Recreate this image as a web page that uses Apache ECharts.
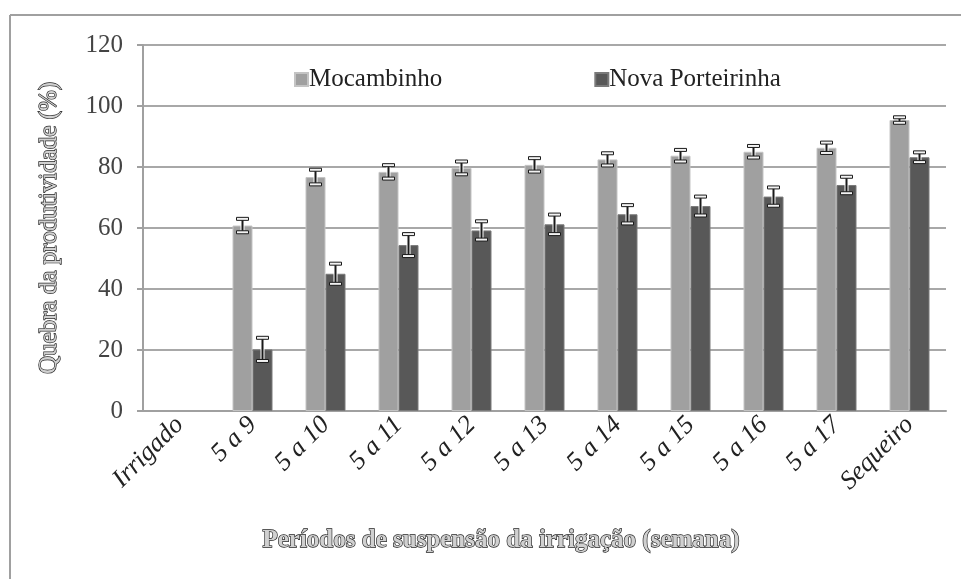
<!DOCTYPE html>
<html>
<head>
<meta charset="utf-8">
<script src="https://cdn.jsdelivr.net/npm/echarts@6/dist/echarts.min.js"></script>
<style>
html,body{margin:0;padding:0;background:#fff;}
#chart{width:961px;height:579px;}
</style>
</head>
<body>
<div id="chart"></div>
<script>
const categories = ['Irrigado','5 a 9','5 a 10','5 a 11','5 a 12','5 a 13','5 a 14','5 a 15','5 a 16','5 a 17','Sequeiro'];
const seriesNames = ['Mocambinho','Nova Porteirinha'];
const mocambinho = [0, 60.8, 76.7, 78.4, 79.7, 80.7, 82.5, 83.7, 85.0, 86.3, 95.4];
const novaPorteirinha = [0, 20.2, 45.0, 54.4, 59.2, 61.2, 64.5, 67.2, 70.3, 74.1, 83.2];
const mocambinhoErr = [null, 2.2, 2.4, 2.2, 2.1, 2.2, 2.0, 1.9, 1.9, 1.7, 0.9];
const novaPorteirinhaErr = [null, 3.8, 3.3, 3.6, 3.0, 3.2, 3.0, 3.1, 3.0, 2.7, 1.6];
const yTicks = {min: 0, max: 120, interval: 20};
const yAxisTitle = 'Quebra da produtividade (%)';
const xAxisTitle = 'Períodos de suspensão da irrigação (semana)';

const FONT = "'Liberation Serif', 'Times New Roman', serif";
const BAR_W = 20;

function barData(vals){
  // zero-height bars are drawn without an outline
  return vals.map(v => v === 0 ? {value: v, itemStyle: {borderWidth: 0}} : v);
}
function errData(vals, errs){
  return vals.map((v,i)=>[i, v, errs[i]]);
}
function makeErrRender(offset){
  return function(params, api){
    const e = api.value(2);
    if (e === null || e === undefined || isNaN(e)) return;
    const i = api.value(0), v = api.value(1);
    const top = api.coord([i, v + e]);
    const bot = api.coord([i, v - e]);
    const cx = top[0] + offset;
    const hw = 6;
    return {
      type: 'group',
      children: [
        {type:'line', shape:{x1:cx, y1:top[1], x2:cx, y2:bot[1]}, style:{stroke:'#ffffff', lineWidth:4}},
        {type:'line', shape:{x1:cx, y1:top[1], x2:cx, y2:bot[1]}, style:{stroke:'#1a1a1a', lineWidth:2}},
        {type:'rect', shape:{x:cx-hw, y:top[1]-1.5, width:hw*2, height:3}, style:{fill:'#f2f2f2', stroke:'#1a1a1a', lineWidth:1}},
        {type:'rect', shape:{x:cx-hw, y:bot[1]-1.5, width:hw*2, height:3}, style:{fill:'#f2f2f2', stroke:'#1a1a1a', lineWidth:1}}
      ]
    };
  };
}

const chart = echarts.init(document.getElementById('chart'), null, {renderer:'canvas'});
chart.setOption({
  backgroundColor: '#ffffff',
  animation: false,
  textStyle: {fontFamily: FONT},
  grid: {left: 143, right: 15, top: 45, bottom: 168, containLabel: false},
  legend: {
    data: seriesNames,
    left: 289, top: 62,
    icon: 'rect', itemWidth: 13, itemHeight: 13, itemGap: 152,
    textStyle: {fontFamily: FONT, fontSize: 25, color: '#222', padding: [0,0,0,-4]}
  },
  xAxis: {
    type: 'category',
    data: categories,
    axisLine: {show: true, lineStyle: {color: '#a0a0a0', width: 2}},
    axisTick: {show: false},
    axisLabel: {
      rotate: 45, interval: 0, margin: 10,
      fontFamily: FONT, fontStyle: 'italic', fontSize: 26, color: '#222'
    },
    splitLine: {show: false}
  },
  yAxis: {
    type: 'value',
    min: yTicks.min, max: yTicks.max, interval: yTicks.interval,
    name: yAxisTitle,
    nameLocation: 'middle', nameGap: 81, nameRotate: 90,
    nameTextStyle: {fontFamily: FONT, fontSize: 25, color: '#d0d0d0', textBorderColor: '#222', textBorderWidth: 1.3},
    axisLine: {show: true, lineStyle: {color: '#a0a0a0', width: 2}},
    axisTick: {show: true, inside: false, length: 6, lineStyle: {color: '#a0a0a0', width: 2}},
    axisLabel: {margin: 20, fontFamily: FONT, fontSize: 25, color: '#444'},
    splitLine: {show: true, lineStyle: {color: '#a8a8a8', width: 2}}
  },
  graphic: [
    {type:'line', shape:{x1:10, y1:15, x2:961, y2:15}, style:{stroke:'#a0a0a0', lineWidth:2}, silent:true},
    {type:'line', shape:{x1:10, y1:15, x2:10, y2:579}, style:{stroke:'#a0a0a0', lineWidth:2}, silent:true},
    {type:'text', x: 501, y: 541, style:{text: xAxisTitle, fill:'#d0d0d0', stroke:'#222', lineWidth:1.3,
      font: "bold 25px 'Liberation Serif', 'Times New Roman', serif", textAlign:'center', textVerticalAlign:'middle'}, silent:true}
  ],
  series: [
    {
      name: seriesNames[0], type: 'bar', data: barData(mocambinho),
      barWidth: BAR_W, barGap: '0%',
      itemStyle: {color: '#a0a0a0', borderColor: '#c4c4c4', borderWidth: 1}
    },
    {
      name: seriesNames[1], type: 'bar', data: barData(novaPorteirinha),
      barWidth: BAR_W, barGap: '0%',
      itemStyle: {color: '#585858', borderColor: '#7a7a7a', borderWidth: 1}
    },
    {
      type: 'custom', name: 'errM', data: errData(mocambinho, mocambinhoErr),
      renderItem: makeErrRender(-BAR_W/2), encode: {x:0, y:1}, z: 10, silent: true
    },
    {
      type: 'custom', name: 'errN', data: errData(novaPorteirinha, novaPorteirinhaErr),
      renderItem: makeErrRender(BAR_W/2), encode: {x:0, y:1}, z: 10, silent: true
    }
  ]
});
</script>
</body>
</html>
